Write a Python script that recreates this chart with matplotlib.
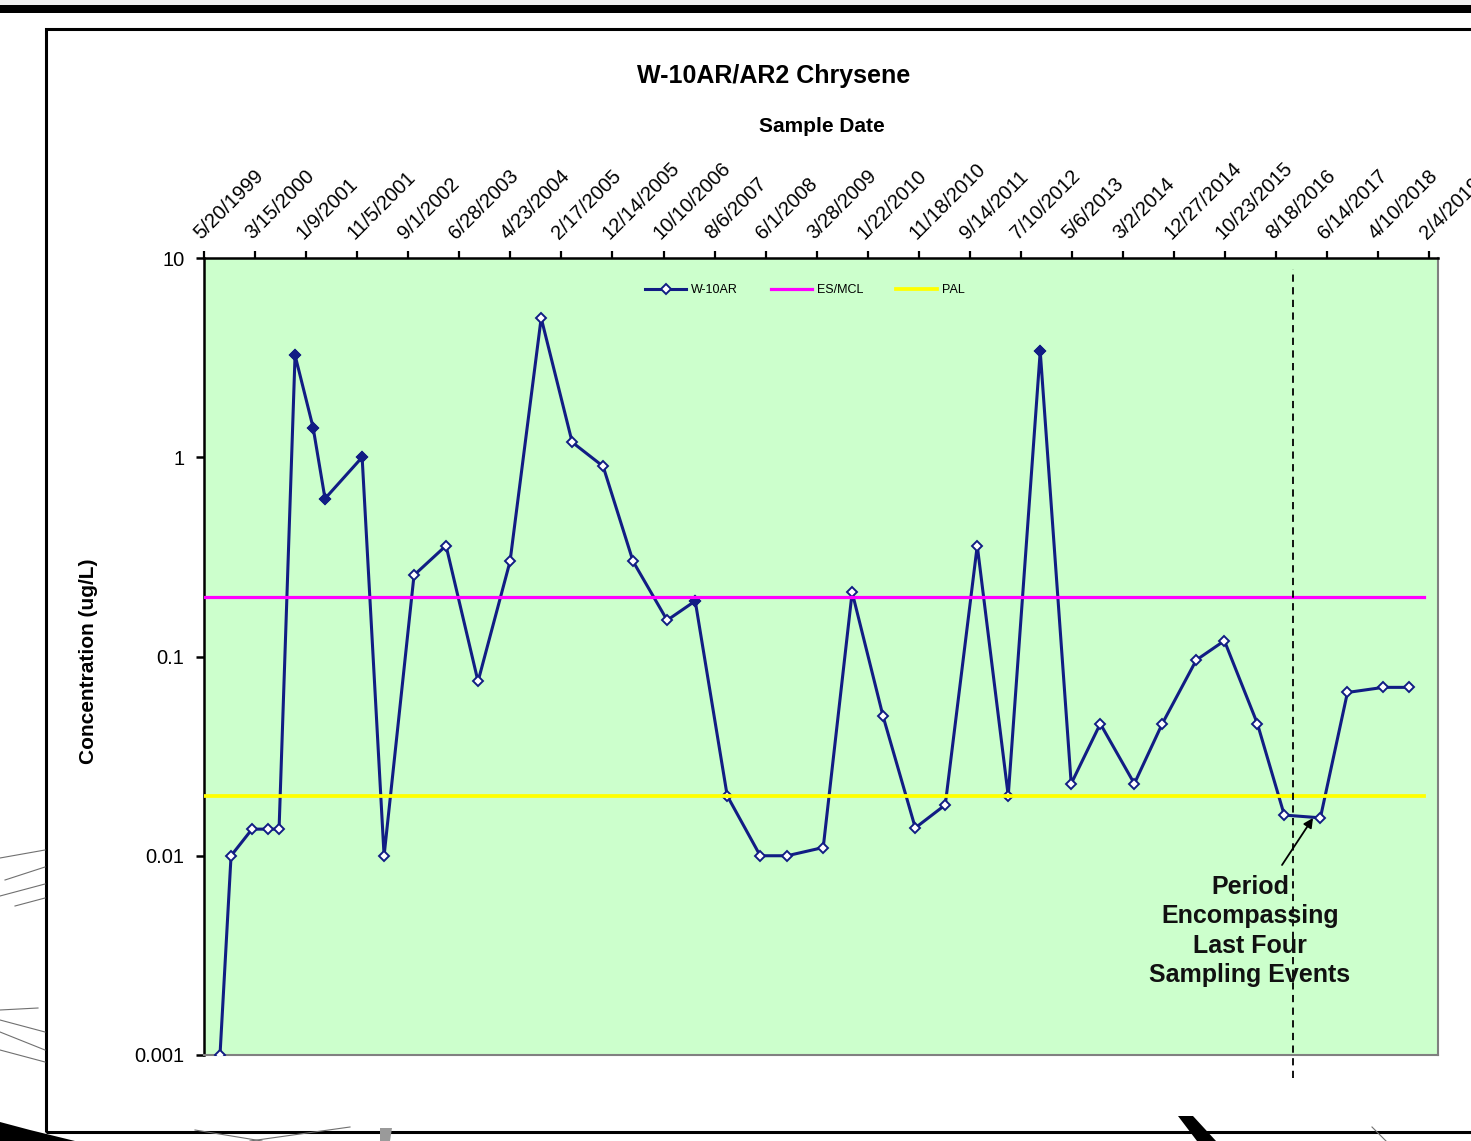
import numpy as np
import pandas as pd
import matplotlib
matplotlib.use("Agg")
import matplotlib.pyplot as plt
from matplotlib.patches import Rectangle, Polygon
from matplotlib.lines import Line2D
from matplotlib.ticker import NullLocator

plt.rcParams['font.family'] = ['Liberation Sans', 'DejaVu Sans']

# W-10AR / AR2 chrysene results (ug/L)
sample_dates = [
    "1999-08-22", "1999-10-26", "2000-02-26", "2000-05-30", "2000-08-03",
    "2000-11-05", "2001-02-19", "2001-04-30", "2001-12-04", "2002-04-12",
    "2002-10-05", "2003-04-11", "2003-10-16", "2004-04-21", "2004-10-21",
    "2005-04-21", "2005-10-20", "2006-04-14", "2006-10-31", "2007-04-14",
    "2007-10-19", "2008-04-30", "2008-10-05", "2009-05-05", "2009-10-22",
    "2010-04-22", "2010-10-28", "2011-04-22", "2011-10-27", "2012-04-26",
    "2012-10-31", "2013-05-01", "2013-10-19", "2014-05-07", "2014-10-18",
    "2015-05-06", "2015-10-18", "2016-04-29", "2016-10-04", "2017-05-04",
    "2017-10-10", "2018-05-09", "2018-10-09",
]
chrysene = [
    0.001, 0.01, 0.0136, 0.0136, 0.0136,
    3.25, 1.41, 0.62, 1.0, 0.01,
    0.256, 0.36, 0.075, 0.30, 5.0,
    1.19, 0.90, 0.30, 0.152, 0.19,
    0.020, 0.01, 0.01, 0.011, 0.21,
    0.050, 0.0138, 0.018, 0.36, 0.020,
    3.4, 0.023, 0.046, 0.023, 0.046,
    0.096, 0.12, 0.046, 0.016, 0.0155,
    0.066, 0.070, 0.070,
]
# solid markers for these results, open markers for the rest
solid = [
    False, False, False, False, False,
    True, True, True, True, False,
    False, False, False, False, False,
    False, False, False, False, True,
    False, False, False, False, False,
    False, False, False, False, False,
    True, False, False, False, False,
    False, False, False, False, False,
    False, False, False,
]

es_mcl = 0.2
pal = 0.02
limit_span = ["1999-05-20", "2019-01-01"]
last_four_start = "2016-11-26"

tick_labels = [
    "5/20/1999", "3/15/2000", "1/9/2001", "11/5/2001", "9/1/2002",
    "6/28/2003", "4/23/2004", "2/17/2005", "12/14/2005", "10/10/2006",
    "8/6/2007", "6/1/2008", "3/28/2009", "1/22/2010", "11/18/2010",
    "9/14/2011", "7/10/2012", "5/6/2013", "3/2/2014", "12/27/2014",
    "10/23/2015", "8/18/2016", "6/14/2017", "4/10/2018", "2/4/2019",
]

dates = pd.to_datetime(sample_dates)
values = np.array(chrysene)
solid = np.array(solid)
ticks = pd.to_datetime(tick_labels, format="%m/%d/%Y")

W, H = 1471, 1141
navy = '#111d84'

fig = plt.figure(figsize=(W / 100, H / 100), dpi=100)
fig.patch.set_facecolor('white')
ax = fig.add_axes([204 / W, 1 - 1055 / H, 1234 / W, 797 / H])
ax.set_facecolor('#CCFFCC')

ax.plot(dates, values, color=navy, lw=2.2, marker='D', ms=5.2,
        mfc='white', mec=navy, mew=1.4, label='W-10AR', zorder=3)
ax.plot(dates[solid], values[solid], ls='none', marker='D', ms=5.2,
        mfc=navy, mec=navy, mew=1.4, zorder=4)
span = pd.to_datetime(limit_span)
ax.plot(span, [es_mcl, es_mcl], color='#FF00FF', lw=2.3, label='ES/MCL', zorder=5)
ax.plot(span, [pal, pal], color='#FFFF00', lw=2.7, label='PAL', zorder=5)

ax.set_yscale('log')
ax.set_ylim(0.001, 10)
ax.set_yticks([0.001, 0.01, 0.1, 1, 10])
ax.set_yticklabels(['0.001', '0.01', '0.1', '1', '10'], fontsize=14.5)
ax.yaxis.set_minor_locator(NullLocator())
ax.tick_params(axis='y', direction='out', length=6, width=1.8, pad=8)

ax.set_xlim(ticks[0], ticks[0] + pd.Timedelta(days=7250))
ax.xaxis.tick_top()
ax.set_xticks(ticks)
ax.set_xticklabels(tick_labels, rotation=45, ha='left', va='bottom',
                   rotation_mode='anchor', fontsize=14.5)
ax.xaxis.set_minor_locator(NullLocator())
ax.tick_params(axis='x', direction='out', length=5, width=1.6, pad=6)

for side in ('top', 'left'):
    ax.spines[side].set_color('black')
    ax.spines[side].set_linewidth(1.8)
for side in ('bottom', 'right'):
    ax.spines[side].set_color('#808080')
    ax.spines[side].set_linewidth(1.5)

ax.legend(loc='center', bbox_to_anchor=(805 / W, 1 - 290 / H),
          bbox_transform=fig.transFigure, ncol=3, frameon=False, fontsize=9,
          handlelength=3.3, handletextpad=0.4, columnspacing=2.6)

# last four sampling events marker
ax.axvline(pd.Timestamp(last_four_start), ymin=-0.029, ymax=0.986,
           color='black', lw=1.3, ls=(0, (4, 3)), clip_on=False, zorder=6)
ax.annotate('', xy=(0.8987, 0.2974), xytext=(0.8736, 0.2384),
            xycoords='axes fraction',
            arrowprops=dict(arrowstyle='-|>', color='black', lw=1.3,
                            mutation_scale=14, shrinkA=0, shrinkB=0))
ax.text(0.8477, 0.1556, 'Period\nEncompassing\nLast Four\nSampling Events',
        transform=ax.transAxes, ha='center', va='center', fontsize=18,
        fontweight='bold', linespacing=1.28, color='#111111', zorder=7)

fig.text(774 / W, 1 - 76 / H, 'W-10AR/AR2 Chrysene', ha='center', va='center',
         fontsize=18, fontweight='bold')
fig.text(822 / W, 1 - 126 / H, 'Sample Date', ha='center', va='center',
         fontsize=15, fontweight='bold')
fig.text(88 / W, 1 - 661 / H, 'Concentration (ug/L)', ha='center', va='center',
         rotation=90, fontsize=15, fontweight='bold')


# page framing around the chart
def px(x, y):
    return (x / W, 1 - y / H)


fig.add_artist(Rectangle(px(0, 5), 1, 5 / H, transform=fig.transFigure,
                         fc='#f0f0f0', ec='none'))
fig.add_artist(Rectangle(px(0, 13), 1, 8 / H, transform=fig.transFigure,
                         fc='black', ec='none'))
fig.add_artist(Rectangle(px(46, 1132), 1.2, 1103 / H, transform=fig.transFigure,
                         fill=False, ec='black', lw=2.2))

for pts, col in [
    ([(0, 1122), (30, 1130), (75, 1141), (0, 1141)], 'black'),
    ([(1178, 1116), (1193, 1116), (1216, 1141), (1197, 1141)], 'black'),
    ([(380, 1128), (392, 1128), (390, 1141), (380, 1141)], '#9a9a9a'),
]:
    fig.add_artist(Polygon([px(*p) for p in pts], closed=True,
                           transform=fig.transFigure, fc=col, ec='none'))

for (x0, y0), (x1, y1) in [
    ((0, 858), (45, 850)), ((5, 880), (45, 867)), ((0, 896), (45, 884)),
    ((15, 906), (45, 898)), ((0, 1010), (38, 1008)), ((0, 1020), (45, 1032)),
    ((0, 1032), (45, 1050)), ((0, 1050), (45, 1062)),
    ((195, 1130), (262, 1141)), ((250, 1141), (350, 1127)),
    ((1372, 1127), (1386, 1141)),
]:
    fig.add_artist(Line2D([x0 / W, x1 / W], [1 - y0 / H, 1 - y1 / H],
                          transform=fig.transFigure, color='#707070', lw=0.8))

fig.savefig('out.png', dpi=100)
